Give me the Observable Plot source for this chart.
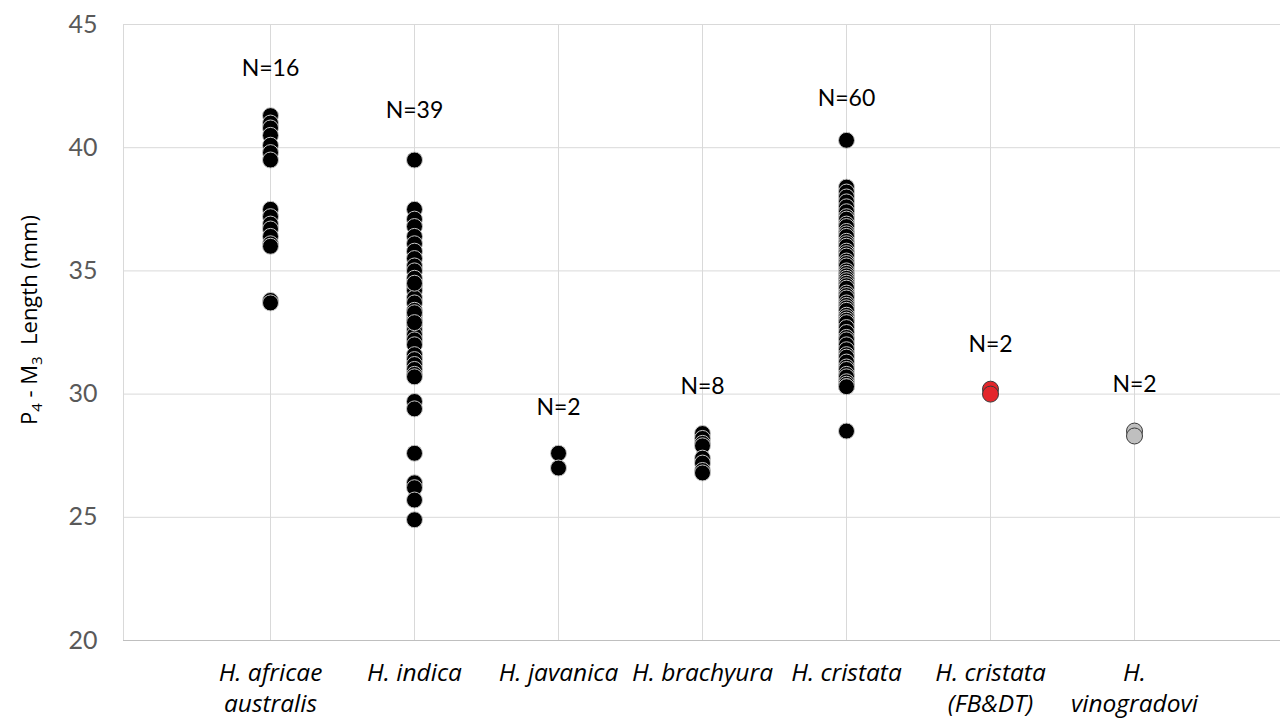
<!DOCTYPE html>
<html><head><meta charset="utf-8">
<script src="https://cdn.jsdelivr.net/npm/d3@7"></script>
<script src="https://cdn.jsdelivr.net/npm/@observablehq/plot@0.6"></script>
<style>
body{margin:0;background:#fff;}
#chart{width:1285px;height:720px;}
</style></head>
<body><div id="chart"></div>
<script>
const categories = ["H. africae australis","H. indica","H. javanica","H. brachyura","H. cristata","H. cristata (FB&DT)","H. vinogradovi"];
const tickLabels = ["H. africae\naustralis","H. indica","H. javanica","H. brachyura","H. cristata","H. cristata\n(FB&DT)","H.\nvinogradovi"];
const africae = [41.3,41.0,40.8,40.5,40.1,39.8,39.5,37.5,37.2,36.9,36.7,36.4,36.1,36.0,33.8,33.7];
const indica = [39.5,37.5,37.1,36.8,36.4,36.1,35.8,35.5,35.2,35.0,34.7,34.4,34.2,33.9,33.7,33.4,33.2,33.0,32.8,32.6,32.4,32.2,32.0,31.6,31.4,31.2,31.0,30.8,30.7,29.7,29.4,27.6,26.4,26.2,25.7,24.9,33.3,32.9,34.5];
const javanica = [27.6,27.0];
const brachyura = [28.4,28.2,28.0,27.9,27.4,27.2,26.9,26.8];
const cristata = [40.3,38.4,38.2,38.0,37.8,37.6,37.4,37.2,37.1,36.9,36.8,36.6,36.5,36.4,36.2,36.1,36.0,35.8,35.7,35.6,35.4,35.3,35.2,35.0,34.9,34.8,34.7,34.6,34.5,34.4,34.3,34.1,34.0,33.9,33.7,33.6,33.5,33.4,33.2,33.1,33.0,32.9,32.7,32.5,32.3,32.2,32.0,31.8,31.6,31.5,31.3,31.1,31.0,30.8,30.7,30.5,30.4,30.3,30.3,28.5];
const cristataFBDT = [30.2,30.0];
const vinogradovi = [28.5,28.3];
const nLabels = ["N=16","N=39","N=2","N=8","N=60","N=2","N=2"];
const nLabelY = [43.2,41.5,29.45,30.3,42.0,32.0,30.4];
const groups = ["main","main","main","main","main","fbdt","vino"];

const seriesValues = [africae,indica,javanica,brachyura,cristata,cristataFBDT,vinogradovi];
const points = seriesValues.flatMap((vals,i)=>vals.map(v=>({cat:categories[i], v, g:groups[i]})));
const labels = categories.map((c,i)=>({cat:c, y:nLabelY[i], t:nLabels[i]}));

const plot = Plot.plot({
  width:1285, height:720,
  marginLeft:123, marginRight:5, marginTop:24, marginBottom:80,
  style:{fontFamily:"Lato, 'Open Sans', sans-serif", background:"#fff"},
  x:{type:"point", domain:categories, padding:1, label:null},
  y:{domain:[20,45], ticks:[20,25,30,35,40,45], label:null},
  color:{domain:["main","fbdt","vino"], range:["#000000","#e3262b","#bfbfbf"]},
  marks:[
    Plot.gridY([20,25,30,35,40,45],{stroke:"#d9d9d9", strokeOpacity:1}),
    Plot.gridX(categories,{stroke:"#d9d9d9", strokeOpacity:1}),
    Plot.axisY({ticks:[20,25,30,35,40,45], tickSize:0, tickPadding:26, fontSize:25, fill:"#595959", label:null}),
    Plot.axisX({tickSize:0, tickPadding:18, fontSize:24.5, fontFamily:"'Open Sans', sans-serif", fontStyle:"italic", lineHeight:1.27, fill:"#000", label:null, tickFormat:(d)=>tickLabels[categories.indexOf(d)]}),
    Plot.dot(points,{x:"cat", y:"v", r:8, fill:"g", stroke:d=>d.g==="main"?"#c8c8c8":"#3a3a3a", strokeWidth:1}),
    Plot.text(labels,{x:"cat", y:"y", text:"t", fontSize:23, fill:"#000"})
  ]
});
document.getElementById("chart").appendChild(plot);

const svg = d3.select(plot);
svg.append("line").attr("x1",123.5).attr("x2",123.5).attr("y1",24).attr("y2",640).attr("stroke","#d9d9d9");
svg.append("line").attr("x1",123).attr("x2",1280).attr("y1",640.5).attr("y2",640.5).attr("stroke","#bfbfbf");
const lab = svg.append("text")
  .attr("transform","translate(37,320) rotate(-90)")
  .attr("text-anchor","middle")
  .attr("font-size",22).attr("fill","#000")
  .attr("font-family","'Open Sans', sans-serif");
lab.append("tspan").text("P");
lab.append("tspan").attr("font-size",15).attr("dy",5).text("4");
lab.append("tspan").attr("dy",-5).text(" - M");
lab.append("tspan").attr("font-size",15).attr("dy",5).text("3");
lab.append("tspan").attr("dy",-5).text("  Length (mm)");
</script>
</body></html>
